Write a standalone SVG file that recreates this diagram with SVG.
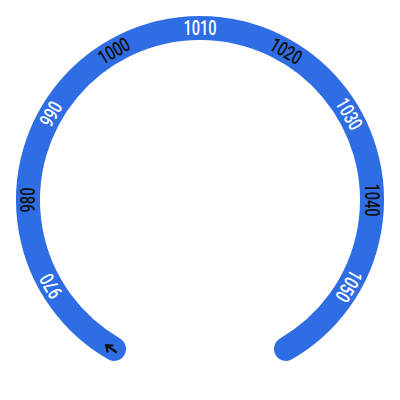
<svg xmlns="http://www.w3.org/2000/svg" width="400" height="400" viewBox="0 0 400 400">
<style>
.band{fill:none;stroke:#2f6de5;stroke-width:24;stroke-linecap:round}
.lbl{font-family:Roboto,"DejaVu Sans Condensed",sans-serif;font-weight:500;font-size:20px;text-anchor:middle;dominant-baseline:central}
.w{fill:#ffffff}
.k{fill:#111111}
.arr{fill:none;stroke:#111111;stroke-width:2.2;stroke-linecap:round;stroke-linejoin:round}
</style>
<rect width="400" height="400" fill="#ffffff"/>
<g id="gauge">
<path class="band" d="M114 348.96 A172 172 0 1 1 286 348.96"/>
</g>
<g id="labels">
<text class="lbl w" transform="rotate(-120 200 200) translate(200 28) scale(0.73 1)">970</text>
<text class="lbl k" transform="rotate(-90 200 200) translate(200 28) scale(0.73 1)">980</text>
<text class="lbl w" transform="rotate(-60 200 200) translate(200 28) scale(0.73 1)">990</text>
<text class="lbl k" transform="rotate(-30 200 200) translate(200 28) scale(0.73 1)">1000</text>
<text class="lbl w" transform="translate(200 28) scale(0.73 1)">1010</text>
<text class="lbl k" transform="rotate(30 200 200) translate(200 28) scale(0.73 1)">1020</text>
<text class="lbl w" transform="rotate(60 200 200) translate(200 28) scale(0.73 1)">1030</text>
<text class="lbl k" transform="rotate(90 200 200) translate(200 28) scale(0.73 1)">1040</text>
<text class="lbl w" transform="rotate(120 200 200) translate(200 28) scale(0.73 1)">1050</text>
</g>
<g id="pointer">
<path class="arr" d="M116 352 L106 345 M106 345 L112.5 345.5 M106 345 L107.5 351.5"/>
</g>
</svg>
